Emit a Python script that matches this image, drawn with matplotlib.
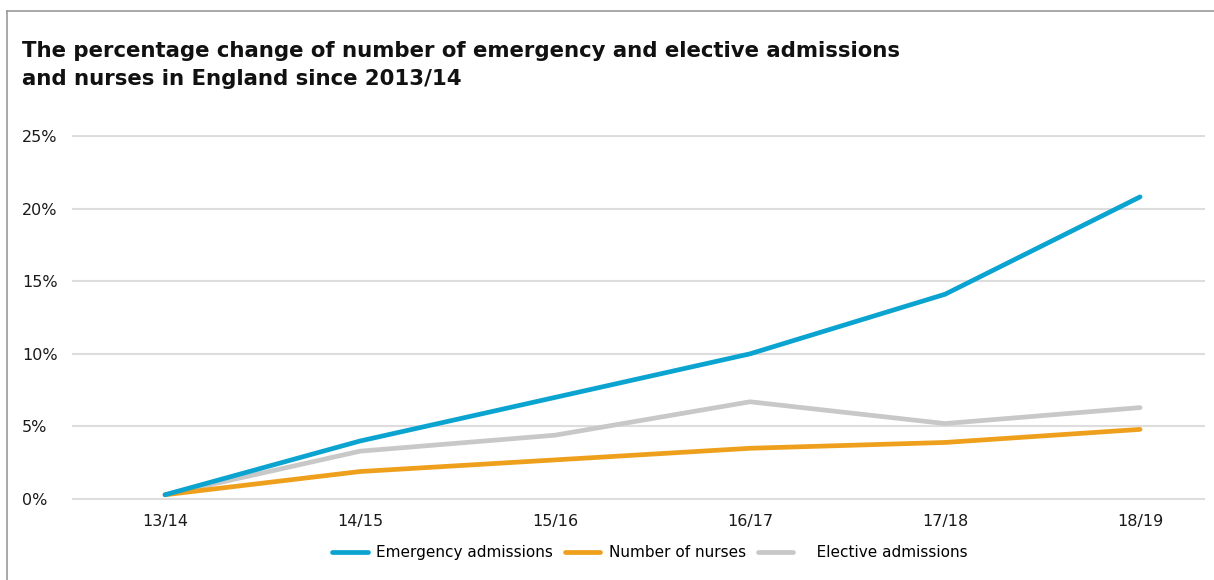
import matplotlib.pyplot as plt
from matplotlib.lines import Line2D

years = ['13/14', '14/15', '15/16', '16/17', '17/18', '18/19']
emergency = [0.3, 4.0, 7.0, 10.0, 14.1, 20.8]
nurses = [0.3, 1.9, 2.7, 3.5, 3.9, 4.8]
elective = [0.3, 3.3, 4.4, 6.7, 5.2, 6.3]
y_ticks = [0, 5, 10, 15, 20, 25]

fig = plt.figure(figsize=(12.14, 5.8), dpi=100)
ax = fig.add_axes([72/1214, 1-500/580, (1205-72)/1214, 365/580])

x = range(len(years))
ax.plot(x, emergency, color='#0ba3d0', lw=3.4, solid_capstyle='round', label='Emergency admissions', zorder=4)
ax.plot(x, nurses, color='#ee9f1b', lw=3.4, solid_capstyle='round', label='Number of nurses', zorder=3)
ax.plot(x, elective, color='#c8c8c8', lw=3.4, solid_capstyle='round', label='   Elective admissions', zorder=2)

ax.set_xlim(-0.477, 5.333)
ax.set_ylim(-0.06, 25.06)
ax.set_yticks(y_ticks)
ax.set_yticklabels([str(v) + '%' for v in y_ticks], ha='left')
ax.set_xticks(list(x))
ax.set_xticklabels(years)
ax.tick_params(axis='y', length=0, pad=36, labelsize=11.5, colors='#1a1a1a')
ax.tick_params(axis='x', length=0, pad=10, labelsize=11.5, colors='#1a1a1a')
ax.grid(axis='y', color='#dddddd', lw=1.5)
ax.set_axisbelow(True)
for s in ax.spines.values():
    s.set_visible(False)

leg = ax.legend(loc='center', bbox_to_anchor=(0.51, -0.145), ncol=3, frameon=False,
                fontsize=11, handlelength=2.3, handletextpad=0.55, columnspacing=0.8)

fig.text(22/1214, 1-65/580, 'The percentage change of number of emergency and elective admissions\nand nurses in England since 2013/14',
         fontsize=15.3, fontweight='bold', va='center', ha='left', linespacing=1.5, color='#111111')

# outer frame (left and top edges)
fig.add_artist(Line2D([7/1214, 7/1214], [0, 1-11/580], transform=fig.transFigure, color='#999999', lw=1.2))
fig.add_artist(Line2D([7/1214, 1], [1-11/580, 1-11/580], transform=fig.transFigure, color='#999999', lw=1.2))

fig.savefig('out.png', dpi=100)
